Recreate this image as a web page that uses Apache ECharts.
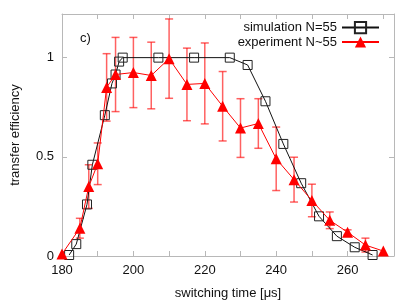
<!DOCTYPE html>
<html>
<head>
<meta charset="utf-8">
<script src="https://cdn.jsdelivr.net/npm/echarts@6/dist/echarts.min.js"></script>
<style>html,body{margin:0;padding:0;background:#fff}#c{width:415px;height:305px}</style>
</head>
<body>
<div id="c"></div>
<script>
const simX = [182, 184, 187, 188.5, 192, 194, 195, 196, 197, 207, 217, 227, 232, 237, 242, 247, 252, 257, 262, 267];
const simY = [0.005, 0.06, 0.26, 0.46, 0.71, 0.87, 0.915, 0.98, 1.0, 1.0, 1.0, 1.0, 0.963, 0.78, 0.565, 0.367, 0.2, 0.1, 0.044, 0.005];
const expX = [180, 185, 187.5, 190, 192.5, 195, 200, 205, 210, 215, 220, 225, 230, 235, 240, 245, 250, 255, 260, 265, 270];
const expY = [0.01, 0.14, 0.35, 0.465, 0.85, 0.915, 0.925, 0.91, 0.995, 0.865, 0.87, 0.755, 0.645, 0.668, 0.49, 0.385, 0.28, 0.18, 0.12, 0.055, 0.025];
const expErr = [0, 0.05, 0.11, 0.105, 0.17, 0.187, 0.177, 0.168, 0.2, 0.183, 0.204, 0.175, 0.148, 0.125, 0.16, 0.113, 0.082, 0.042, 0.012, 0.035, 0];
const xLabels = [180, 200, 220, 240, 260];
const yLabels = [0, 0.5, 1];
const simName = 'simulation N=55';
const expName = 'experiment N~55';
const panelLabel = 'c)';

const FONT = 'Liberation Sans, Arial, sans-serif';
const AX = '#b8b8b8';
const chart = echarts.init(document.getElementById('c'), null, {renderer: 'canvas'});

const axCommon = {
  axisLine: {show: true, onZero: false, lineStyle: {color: AX, width: 1}},
  axisTick: {show: true, inside: true, length: 5, lineStyle: {color: AX}},
  splitLine: {show: false}
};

chart.setOption({
  animation: false,
  grid: {left: 62, right: 21, top: 14, bottom: 47, containLabel: false},
  legend: [
    {data: [simName], right: 35, top: 21, orient: 'vertical', align: 'right', padding: 0,
     itemWidth: 37, itemHeight: 14, textStyle: {fontSize: 13, fontFamily: FONT, color: '#111'}},
    {data: [expName], right: 35, top: 35.5, orient: 'vertical', align: 'right', padding: 0,
     itemWidth: 37, itemHeight: 14, textStyle: {fontSize: 13, fontFamily: FONT, color: '#111'}}
  ],
  graphic: [{type: 'text', left: 80, top: 32, style: {text: panelLabel, font: '13px ' + FONT, fill: '#111'}}],
  xAxis: [
    Object.assign({}, axCommon, {
      type: 'value', position: 'bottom', min: 180, max: 273, interval: 10,
      name: 'switching time [μs]', nameLocation: 'middle', nameGap: 31,
      nameTextStyle: {fontSize: 13, fontFamily: FONT, color: '#111'},
      axisLabel: {fontSize: 13, fontFamily: FONT, color: '#111', margin: 8,
        formatter: v => xLabels.includes(v) ? String(v) : ''}
    }),
    Object.assign({}, axCommon, {
      type: 'value', position: 'top', min: 180, max: 273, interval: 10, axisLabel: {show: false}
    })
  ],
  yAxis: [
    Object.assign({}, axCommon, {
      type: 'value', position: 'left', min: 0, max: 1.22, interval: 0.5,
      name: 'transfer efficiency', nameLocation: 'middle', nameGap: 40,
      nameTextStyle: {fontSize: 13, fontFamily: FONT, color: '#111'},
      axisLabel: {fontSize: 13, fontFamily: FONT, color: '#111', margin: 8,
        formatter: v => yLabels.includes(v) ? String(v) : ''}
    }),
    Object.assign({}, axCommon, {
      type: 'value', position: 'right', min: 0, max: 1.22, interval: 0.5, axisLabel: {show: false}
    })
  ],
  series: [
    {
      type: 'custom', name: 'err', xAxisIndex: 0, yAxisIndex: 0, clip: false, z: 1,
      data: expX.map((x, i) => [x, expY[i], expErr[i]]),
      encode: {x: 0, y: 1},
      renderItem: function (params, api) {
        const x = api.value(0), y = api.value(1), e = api.value(2);
        if (!e) return null;
        const t = api.coord([x, y + e]);
        const b = api.coord([x, y - e]);
        const w = 4;
        const st = {stroke: 'rgba(255,0,0,0.62)', lineWidth: 1.5};
        return {type: 'group', children: [
          {type: 'line', shape: {x1: t[0], y1: t[1], x2: b[0], y2: b[1]}, style: st},
          {type: 'line', shape: {x1: t[0] - w, y1: t[1], x2: t[0] + w, y2: t[1]}, style: st},
          {type: 'line', shape: {x1: b[0] - w, y1: b[1], x2: b[0] + w, y2: b[1]}, style: st}
        ]};
      }
    },
    {
      type: 'line', name: simName, clip: false, z: 3,
      data: simX.map((x, i) => [x, simY[i]]),
      symbol: 'rect', symbolSize: 9, showAllSymbol: true,
      lineStyle: {color: '#111', width: 1},
      itemStyle: {color: 'rgba(0,0,0,0)', borderColor: '#222', borderWidth: 1},
      emphasis: {disabled: true}
    },
    {
      type: 'line', name: expName, clip: false, z: 4,
      data: expX.map((x, i) => [x, expY[i]]),
      symbol: 'triangle', symbolSize: 11, showAllSymbol: true,
      lineStyle: {color: '#ff0000', width: 1},
      itemStyle: {color: '#ff0000', borderWidth: 0},
      emphasis: {disabled: true}
    }
  ]
});
</script>
</body>
</html>
